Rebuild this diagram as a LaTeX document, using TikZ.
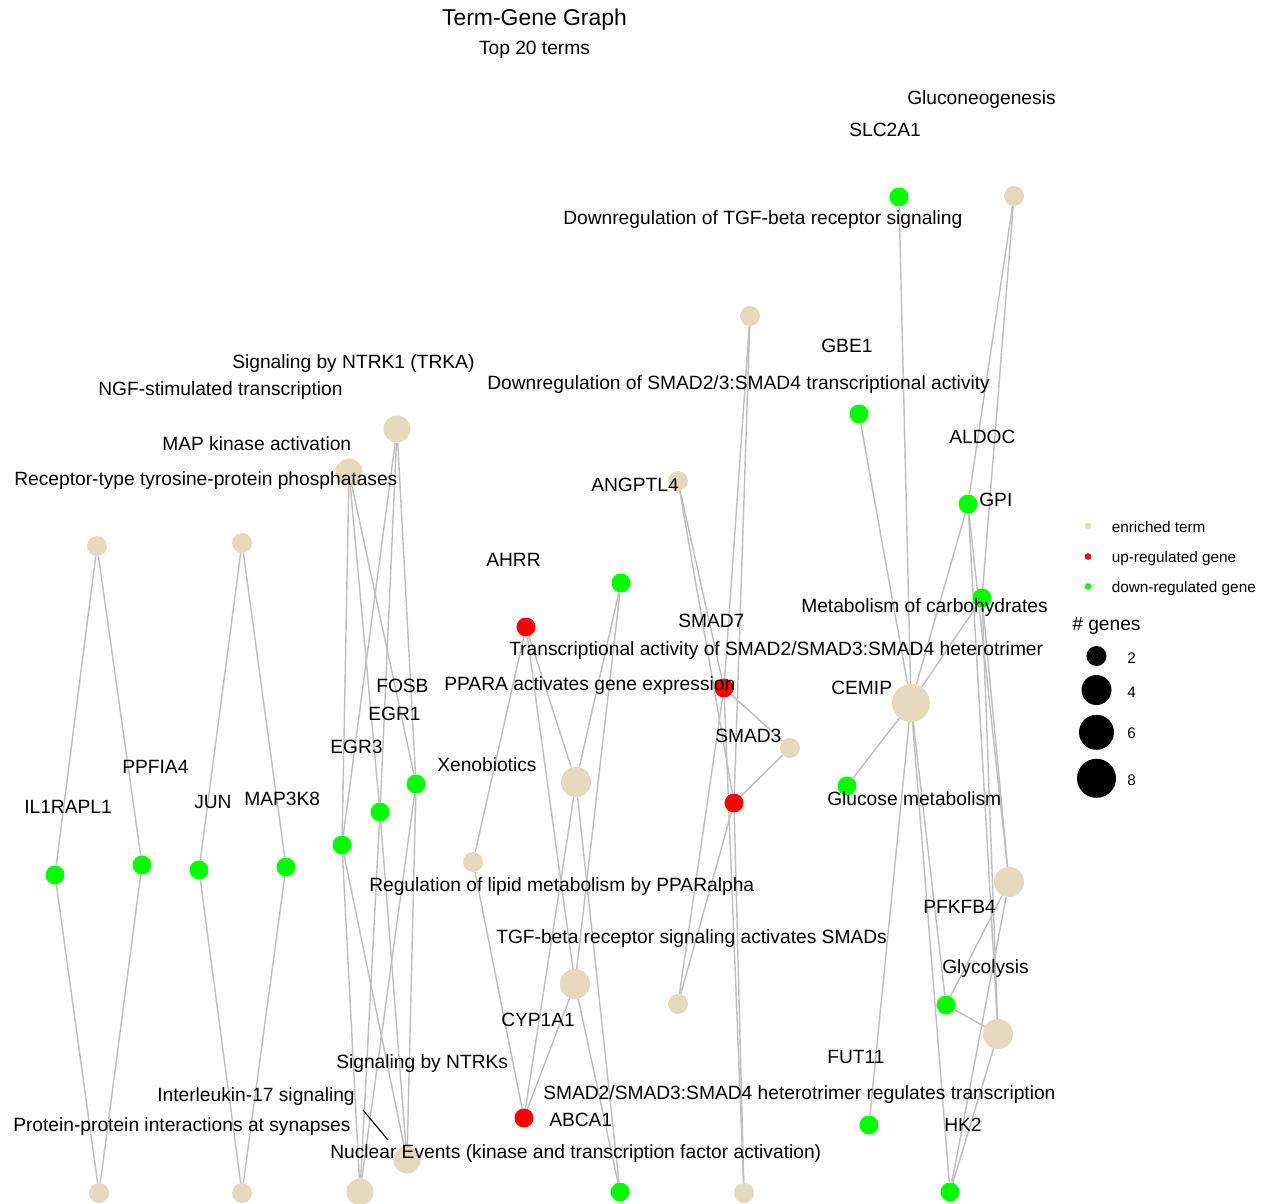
\documentclass[tikz,border=0pt]{standalone}
\usepackage{fontspec}
\setmainfont{Liberation Sans}
\usetikzlibrary{backgrounds}
\definecolor{termc}{HTML}{E5D8BD}
\definecolor{upc}{HTML}{FF0000}
\definecolor{downc}{HTML}{00FF00}
\definecolor{edgec}{HTML}{BEBEBE}

\begin{document}
\begin{tikzpicture}[x=0.75pt,y=-0.75pt,
  term/.style={circle,fill=termc,draw=none,inner sep=0pt,minimum size=#1},
  upgene/.style={circle,fill=upc,draw=none,inner sep=0pt,minimum size=14.25pt},
  downgene/.style={circle,fill=downc,draw=none,inner sep=0pt,minimum size=14.25pt},
  edge/.style={draw=edgec,line width=1.05pt},
  lab/.style={anchor=base west,inner sep=0pt,font=\fontsize{14.4pt}{17pt}\selectfont},
  leglab/.style={anchor=base west,inner sep=0pt,font=\fontsize{11.5pt}{14pt}\selectfont},
  legdot/.style={circle,fill=#1,draw=none,inner sep=0pt,minimum size=5pt},
  legsize/.style={circle,fill=black,draw=none,inner sep=0pt,minimum size=#1}
]
\useasboundingbox (0,0) rectangle (1265,1204);

% ---------- titles ----------
\node[anchor=base,inner sep=0pt,font=\fontsize{17.2pt}{20pt}\selectfont] (title) at (534.5,25) {Term-Gene Graph};
\node[anchor=base,inner sep=0pt,font=\fontsize{14.4pt}{17pt}\selectfont] (subtitle) at (534.5,54) {Top 20 terms};

% ---------- term nodes ----------
\node[term=15pt]    (tGlucoNeo)  at (1014,196) {};
\node[term=15pt]    (tDownTGF)   at (750,316) {};
\node[term=20.25pt] (tNTRK1)     at (397,429) {};
\node[term=20.25pt] (tNGF)       at (349,472) {};
\node[term=15pt]    (tDownSMAD)  at (678,481) {};
\node[term=15pt]    (tRTP)       at (97,546) {};
\node[term=15pt]    (tMAPK)      at (242,543) {};
\node[term=28.5pt]  (tCarb)      at (911,703) {};
\node[term=15pt]    (tTransSMAD) at (790,748) {};
\node[term=22.5pt]  (tPPARA)     at (576,782) {};
\node[term=15pt]    (tXeno)      at (473,862) {};
\node[term=22.5pt]  (tGlucMet)   at (1009,882) {};
\node[term=22.5pt]  (tLipid)     at (575,984) {};
\node[term=15pt]    (tTGFact)    at (678,1004) {};
\node[term=22.5pt]  (tGlycol)    at (998,1034) {};
\node[term=20.25pt] (tNuclear)   at (407,1160) {};
\node[term=20.25pt] (tNTRKs)     at (360,1192) {};
\node[term=15pt]    (tSynapse)   at (99,1193) {};
\node[term=15pt]    (tIL17)      at (242,1193) {};
\node[term=15pt]    (tHetero)    at (744,1193) {};

% ---------- gene nodes ----------
\node[downgene] (gSLC2A1)   at (899,197) {};
\node[downgene] (gGBE1)     at (859,414) {};
\node[downgene] (gGPI)      at (968,504) {};
\node[downgene] (gALDOC)    at (982,598) {};
\node[downgene] (gANGPTL4)  at (621,583) {};
\node[upgene]   (gAHRR)     at (526,627) {};
\node[upgene]   (gSMAD7)    at (724,688) {};
\node[upgene]   (gSMAD3)    at (734,803) {};
\node[downgene] (gFOSB)     at (416,784) {};
\node[downgene] (gEGR1)     at (380,812) {};
\node[downgene] (gEGR3)     at (342,845) {};
\node[downgene] (gIL1RAPL1) at (55,875) {};
\node[downgene] (gPPFIA4)   at (142,865) {};
\node[downgene] (gJUN)      at (199,870) {};
\node[downgene] (gMAP3K8)   at (286,867) {};
\node[downgene] (gCEMIP)    at (847,786) {};
\node[downgene] (gPFKFB4)   at (946,1005) {};
\node[downgene] (gFUT11)    at (869,1125) {};
\node[upgene]   (gCYP1A1)   at (524,1118) {};
\node[downgene] (gABCA1)    at (620,1192) {};
\node[downgene] (gHK2)      at (950,1192) {};

% ---------- edges (behind the nodes) ----------
\begin{pgfonlayer}{background}
\fill[white] (0,0) rectangle (1265,1204);
\foreach \t in {tRTP,tSynapse} \foreach \g in {gIL1RAPL1,gPPFIA4} \draw[edge] (\t) -- (\g);
\foreach \t in {tMAPK,tIL17} \foreach \g in {gJUN,gMAP3K8} \draw[edge] (\t) -- (\g);
\foreach \t in {tNGF,tNTRK1,tNTRKs,tNuclear} \foreach \g in {gFOSB,gEGR1,gEGR3} \draw[edge] (\t) -- (\g);
\foreach \t in {tPPARA,tLipid} \foreach \g in {gAHRR,gANGPTL4,gCYP1A1,gABCA1} \draw[edge] (\t) -- (\g);
\foreach \g in {gAHRR,gCYP1A1} \draw[edge] (tXeno) -- (\g);
\foreach \t in {tDownTGF,tDownSMAD,tTransSMAD,tTGFact,tHetero} \foreach \g in {gSMAD7,gSMAD3} \draw[edge] (\t) -- (\g);
\foreach \g in {gSLC2A1,gGBE1,gGPI,gALDOC,gCEMIP,gPFKFB4,gFUT11,gHK2} \draw[edge] (tCarb) -- (\g);
\foreach \g in {gGPI,gALDOC} \draw[edge] (tGlucoNeo) -- (\g);
\foreach \t in {tGlucMet,tGlycol} \foreach \g in {gGPI,gALDOC,gPFKFB4,gHK2} \draw[edge] (\t) -- (\g);
\end{pgfonlayer}

% ---------- labels ----------
\node[lab] (lGlucoNeo) at (907,104) {Gluconeogenesis};
\node[lab] (lSLC2A1) at (849,136) {SLC2A1};
\node[lab] (lDownTGF) at (563,224) {Downregulation of TGF-beta receptor signaling};
\node[lab] (lNTRK1) at (232,368) {Signaling by NTRK1 (TRKA)};
\node[lab] (lNGF) at (98,395) {NGF-stimulated transcription};
\node[lab] (lGBE1) at (821,352) {GBE1};
\node[lab] (lDownSMAD) at (487,389) {Downregulation of SMAD2/3:SMAD4 transcriptional activity};
\node[lab] (lMAPK) at (162,450) {MAP kinase activation};
\node[lab] (lALDOC) at (949,443) {ALDOC};
\node[lab] (lRTP) at (14,485) {Receptor-type tyrosine-protein phosphatases};
\node[lab] (lANGPTL4) at (591,491) {ANGPTL4};
\node[lab] (lGPI) at (979,506) {GPI};
\node[lab] (lAHRR) at (486,566) {AHRR};
\node[lab] (lCarb) at (801,612) {Metabolism of carbohydrates};
\node[lab] (lSMAD7) at (678,627) {SMAD7};
\node[lab] (lTransSMAD) at (509,655) {Transcriptional activity of SMAD2/SMAD3:SMAD4 heterotrimer};
\node[lab] (lFOSB) at (376,692) {FOSB};
\node[lab] (lPPARA) at (444,690) {PPARA activates gene expression};
\node[lab] (lCEMIP) at (831,694) {CEMIP};
\node[lab] (lEGR1) at (368,720) {EGR1};
\node[lab] (lSMAD3) at (715,742) {SMAD3};
\node[lab] (lEGR3) at (330,753) {EGR3};
\node[lab] (lPPFIA4) at (122,773) {PPFIA4};
\node[lab] (lXeno) at (437,771) {Xenobiotics};
\node[lab] (lMAP3K8) at (244,805) {MAP3K8};
\node[lab] (lJUN) at (194,808) {JUN};
\node[lab] (lIL1RAPL1) at (24,813) {IL1RAPL1};
\node[lab] (lGlucMet) at (827,805) {Glucose metabolism};
\node[lab] (lLipid) at (369,891) {Regulation of lipid metabolism by PPARalpha};
\node[lab] (lPFKFB4) at (923,913) {PFKFB4};
\node[lab] (lTGFact) at (496,943) {TGF-beta receptor signaling activates SMADs};
\node[lab] (lGlycol) at (942,973) {Glycolysis};
\node[lab] (lCYP1A1) at (501,1026) {CYP1A1};
\node[lab] (lFUT11) at (827,1063) {FUT11};
\node[lab] (lNTRKs) at (336,1068) {Signaling by NTRKs};
\node[lab] (lIL17) at (157,1101) {Interleukin-17 signaling};
\node[lab] (lHetero) at (543,1099) {SMAD2/SMAD3:SMAD4 heterotrimer regulates transcription};
\node[lab] (lABCA1) at (549,1126) {ABCA1};
\node[lab] (lSynapse) at (13,1131) {Protein-protein interactions at synapses};
\node[lab] (lHK2) at (944,1131) {HK2};
\node[lab] (lNuclear) at (330,1158) {Nuclear Events (kinase and transcription factor activation)};

% leader segment of the Interleukin-17 label
\coordinate (segA) at (363,1110);
\coordinate (segB) at (388,1140);
\draw[black,line width=0.9pt] (segA) -- (segB);

% ---------- legend ----------
\node[legdot=termc] (kTerm) at (1088,526) {};
\node[legdot=upc]   (kUp)   at (1088,556.5) {};
\node[legdot=downc] (kDown) at (1088,586.5) {};
\node[leglab] (kTermL) at (1111.5,532) {enriched term};
\node[leglab] (kUpL)   at (1111.5,562.5) {up-regulated gene};
\node[leglab] (kDownL) at (1111.5,592.5) {down-regulated gene};
\node[anchor=base west,inner sep=0pt,font=\fontsize{14.4pt}{17pt}\selectfont] (kSizeT) at (1072,630) {\# genes};
\node[legsize=15pt]    (kS2) at (1096.5,656) {};
\node[legsize=22.5pt]  (kS4) at (1096.5,690) {};
\node[legsize=26.25pt] (kS6) at (1096.5,732.3) {};
\node[legsize=29.25pt] (kS8) at (1096.5,778.3) {};
\node[leglab] (kS2L) at (1127,663) {2};
\node[leglab] (kS4L) at (1127,697) {4};
\node[leglab] (kS6L) at (1127,738.5) {6};
\node[leglab] (kS8L) at (1127,785) {8};
\end{tikzpicture}
\end{document}
